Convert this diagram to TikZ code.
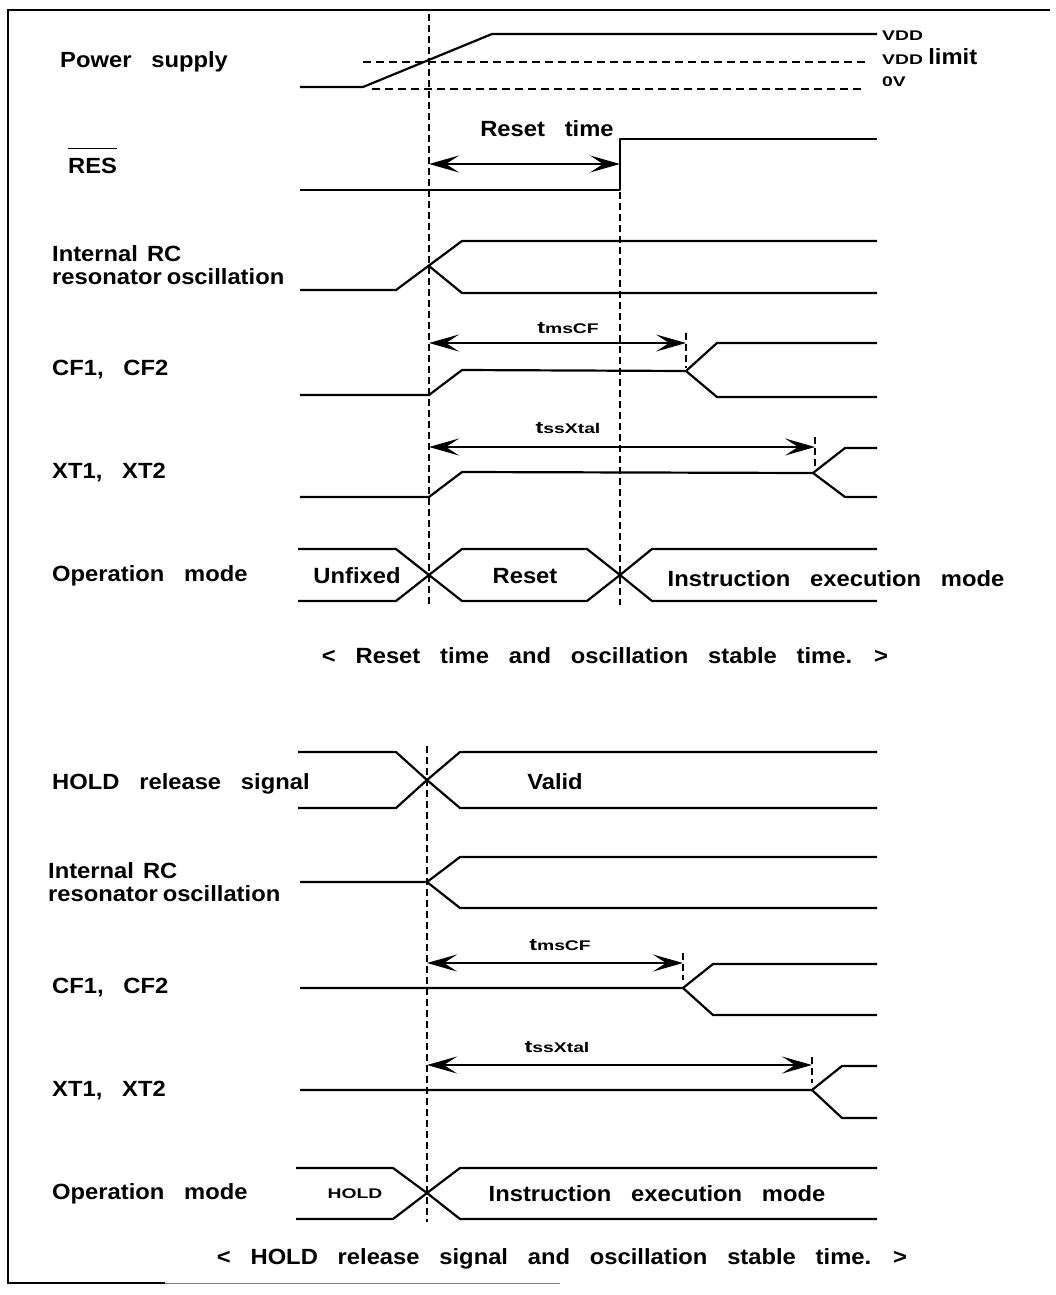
\documentclass[tikz,border=0pt]{standalone}
\usepackage{fontspec}
\usetikzlibrary{arrows.meta}
\newfontfamily\lgf[FakeStretch=1.08,WordSpace=3]{Liberation Sans}
\newfontfamily\smf[FakeStretch=1.38]{Liberation Sans}
\tikzset{
  sig/.style={line width=2.2pt, line join=round},
  vdash/.style={line width=2.4pt, dash pattern=on 7pt off 4pt},
  hdash/.style={line width=2.4pt, dash pattern=on 8pt off 5pt},
  dimhead/.tip={Stealth[length=30pt,width=17pt,inset=13pt]},
  dimarr/.style={line width=2.2pt, arrows={dimhead-dimhead}},
  frame/.style={line width=2pt},
  lbl/.style={font=\fontsize{22}{26}\lgf\bfseries, inner sep=0pt, anchor=base west},
  ctext/.style={font=\fontsize{22}{26}\lgf\bfseries, inner sep=0pt, anchor=base},
  small/.style={font=\fontsize{14}{16}\smf\bfseries, inner sep=0pt},
}
\begin{document}
\begin{tikzpicture}[x=1pt,y=-1pt]
\useasboundingbox (0,0) rectangle (1055,1295);
% frame
\draw[frame] (1050,10) -- (8,10) -- (8,1283) -- (165,1283);
\draw[line width=1pt, gray] (165,1283) -- (560,1283);

% ===== top section =====
\node[lbl] (lps) at (60,68) {Power supply};
\node[lbl] (lres) at (68,173) {RES};
\draw[line width=1.6pt] (lres.north west) ++(0,-9) coordinate (ol1) -- ([yshift=9pt]lres.north east) coordinate (ol2);
\node[lbl] (lrc1) at (52,261) {Internal\hspace{9pt}RC};
\node[lbl] (lrc2) at (52,284) {resonator\hspace{5pt}oscillation};
\node[lbl] (lcf) at (52,375) {CF1, CF2};
\node[lbl] (lxt) at (52,478) {XT1, XT2};
\node[lbl] (lop) at (52,581) {Operation mode};

% power supply
\draw[sig] (300,87) -- (363,87) -- (492,34) -- (877,34);
\draw[hdash] (363,62) -- (865,62);
\draw[hdash] (372,89) -- (865,89);
\node[small, anchor=base west] (vdd) at (882,41) {VDD};
\node[small, anchor=base west] (vddl) at (882,65) {VDD {\fontsize{22}{26}\lgf\bfseries limit}};
\node[small, anchor=base west] (ov) at (882,87) {0V};

% vertical dashed markers
\draw[vdash] (429,14) -- (429,605);
\draw[vdash] (620,192) -- (620,605);

% RES
\draw[sig] (300,190) -- (620,190) -- (620,139) -- (877,139);
\coordinate (ra) at (429,164);
\coordinate (rb) at (620,164);
\draw[dimarr] (ra) -- (rb);
\node[ctext] (trst) at (547,136) {Reset time};

% internal RC
\draw[sig] (300,290) -- (396,290) -- (462,241) -- (877,241);
\draw[sig] (429,266) -- (462,293) -- (877,293);

% CF1, CF2
\draw[sig] (300,395) -- (429,395) -- (462,370) -- (686,371) -- (717,343) -- (877,343);
\draw[sig] (686,371) -- (717,397) -- (877,397);
\coordinate (ca) at (429,343);
\coordinate (cb) at (686,343);
\draw[dimarr] (ca) -- (cb);
\draw[vdash] (686,333) -- (686,368);
\node[small, anchor=base] (tms) at (568,333) {{\fontsize{17}{18}\selectfont t}msCF};

% XT1, XT2
\draw[sig] (300,497) -- (429,497) -- (462,472) -- (813,473) -- (845,448) -- (877,448);
\draw[sig] (813,473) -- (845,497) -- (877,497);
\coordinate (xa) at (429,447);
\coordinate (xb) at (815,447);
\draw[dimarr] (xa) -- (xb);
\draw[vdash] (815,437) -- (815,470);
\node[small, anchor=base] (tss) at (568,433) {{\fontsize{17}{18}\selectfont t}ssXtal};

% operation mode bus
\draw[sig] (298,549) -- (396,549) -- (429,575) -- (462,601) -- (587,601) -- (620,575) -- (652,549) -- (877,549);
\draw[sig] (298,601) -- (396,601) -- (429,575) -- (462,549) -- (587,549) -- (620,575) -- (652,601) -- (877,601);
\node[ctext] (tunf) at (357,583) {Unfixed};
\node[ctext] (treset) at (525,583) {Reset};
\node[ctext] (tinst1) at (836,586) {Instruction execution mode};
\node[ctext] (cap1) at (605,663) {< Reset time and oscillation stable time. >};

% ===== bottom section =====
\node[lbl] (lhold) at (52,789) {HOLD release signal};
\node[lbl] (lrc3) at (48,878) {Internal\hspace{9pt}RC};
\node[lbl] (lrc4) at (48,901) {resonator\hspace{5pt}oscillation};
\node[lbl] (lcf2) at (52,993) {CF1, CF2};
\node[lbl] (lxt2) at (52,1096) {XT1, XT2};
\node[lbl] (lop2) at (52,1199) {Operation mode};

\draw[vdash] (427,746) -- (427,1222);

% HOLD release
\draw[sig] (298,752) -- (396,752) -- (427,780) -- (460,808) -- (877,808);
\draw[sig] (298,808) -- (396,808) -- (427,780) -- (460,752) -- (877,752);
\node[ctext] (tvalid) at (555,789) {Valid};

% internal RC
\draw[sig] (300,882) -- (427,882) -- (460,857) -- (877,857);
\draw[sig] (427,882) -- (460,908) -- (877,908);

% CF1, CF2
\draw[sig] (300,988) -- (683,988) -- (713,964) -- (877,964);
\draw[sig] (683,988) -- (713,1015) -- (877,1015);
\coordinate (c2a) at (427,963);
\coordinate (c2b) at (683,963);
\draw[dimarr] (c2a) -- (c2b);
\draw[vdash] (683,953) -- (683,980);
\node[small, anchor=base] (tms2) at (560,950) {{\fontsize{17}{18}\selectfont t}msCF};

% XT1, XT2
\draw[sig] (300,1090) -- (812,1090) -- (842,1066) -- (877,1066);
\draw[sig] (812,1090) -- (842,1118) -- (877,1118);
\coordinate (x2a) at (427,1065);
\coordinate (x2b) at (812,1065);
\draw[dimarr] (x2a) -- (x2b);
\draw[vdash] (812,1057) -- (812,1083);
\node[small, anchor=base] (tss2) at (557,1052) {{\fontsize{17}{18}\selectfont t}ssXtal};

% operation mode bus
\draw[sig] (296,1168) -- (393,1168) -- (427,1193) -- (460,1219) -- (877,1219);
\draw[sig] (296,1219) -- (393,1219) -- (427,1193) -- (460,1168) -- (877,1168);
\node[small, anchor=base] (thold) at (355,1198) {HOLD};
\node[ctext] (tinst2) at (657,1201) {Instruction execution mode};
\node[ctext] (cap2) at (562,1264) {< HOLD release signal and oscillation stable time. >};
\end{tikzpicture}
\end{document}
